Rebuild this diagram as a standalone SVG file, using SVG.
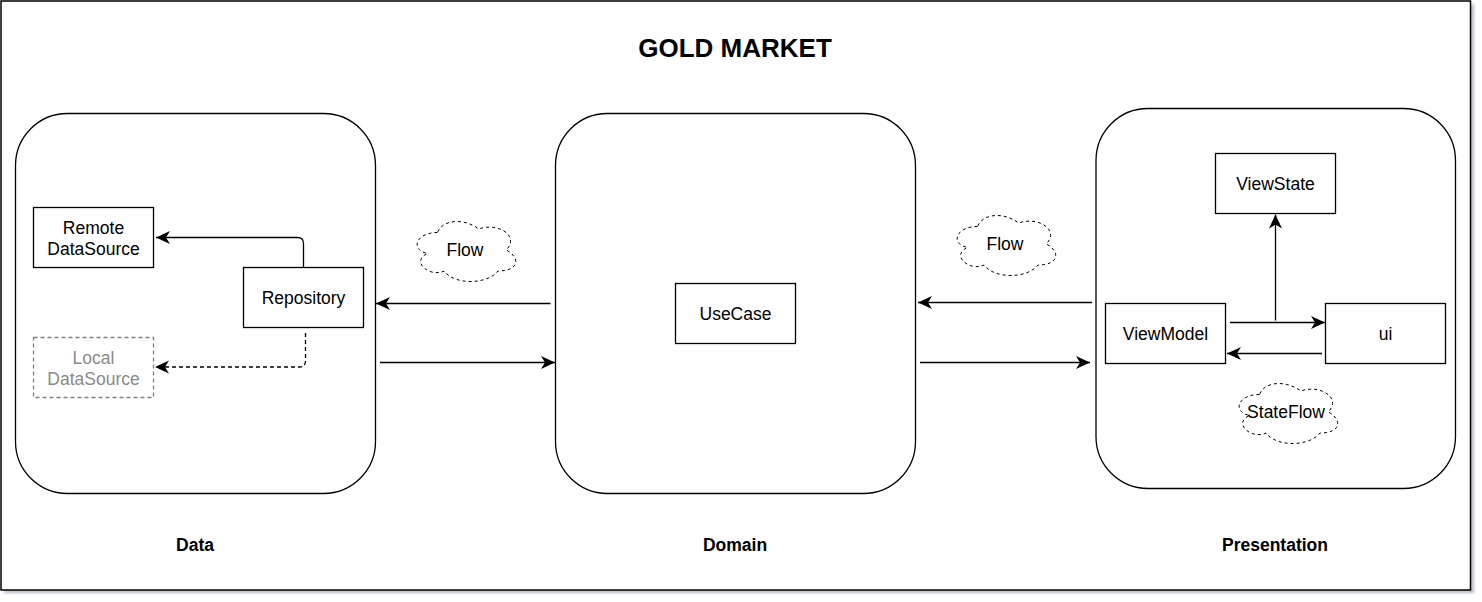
<svg xmlns="http://www.w3.org/2000/svg" width="1482" height="602" viewBox="0 0 1482 602">
<style>
  .frame { fill: #ffffff; stroke: #000000; stroke-width: 1.5; }
  .container { fill: #ffffff; stroke: #000000; stroke-width: 1.3; }
  .box { fill: #ffffff; stroke: #000000; stroke-width: 1.3; }
  .box-dashed { fill: #ffffff; stroke: #808080; stroke-width: 1.3; stroke-dasharray: 4 3; }
  .cloud { fill: #ffffff; stroke: #000000; stroke-width: 1; stroke-dasharray: 3 3; }
  .txt { font-family: "Liberation Sans", Arial, sans-serif; font-size: 17.5px; fill: #000000; text-anchor: middle; }
  .txt-gray { fill: #8a8a8a; }
  .label { font-family: "Liberation Sans", Arial, sans-serif; font-size: 17.5px; font-weight: bold; fill: #000000; text-anchor: middle; }
  .title { font-family: "Liberation Sans", Arial, sans-serif; font-size: 26px; font-weight: bold; fill: #000000; text-anchor: middle; }
  .edge { fill: none; stroke: #000000; stroke-width: 1.3; }
  .edge-dashed { fill: none; stroke: #000000; stroke-width: 1.3; stroke-dasharray: 4 3; }
</style>
<defs>
  <marker id="arrow" markerUnits="userSpaceOnUse" viewBox="-15 -8 16 16" markerWidth="16" markerHeight="16" refX="0" refY="0" orient="auto">
    <path d="M0,0 L-14,-6.5 L-10,0 L-14,6.5 Z" fill="#000000" stroke="none"/>
  </marker>
  <filter id="shadow" x="-5%" y="-5%" width="110%" height="110%">
    <feGaussianBlur stdDeviation="1.5"/>
  </filter>
</defs>

<rect width="1482" height="602" fill="#ffffff"/>

<g id="frame">
  <rect x="4" y="4" width="1470" height="589" fill="#b8bccb" filter="url(#shadow)"/>
  <rect class="frame" x="1" y="1" width="1469.5" height="589"/>
</g>

<g id="title">
  <text class="title" x="735" y="57">GOLD MARKET</text>
</g>

<g id="data">
  <rect class="container" x="15.5" y="113.5" width="360" height="380" rx="52" ry="52"/>
  <text class="label" x="195" y="551">Data</text>
</g>

<g id="domain">
  <rect class="container" x="555.5" y="113.5" width="360" height="380" rx="52" ry="52"/>
  <text class="label" x="735" y="551">Domain</text>
</g>

<g id="presentation">
  <rect class="container" x="1096" y="108.5" width="359.5" height="380" rx="52" ry="52"/>
  <text class="label" x="1275" y="551">Presentation</text>
</g>

<g id="remote-datasource">
  <rect class="box" x="33.5" y="207.5" width="120" height="60"/>
  <text class="txt" x="93.5" y="234">Remote</text>
  <text class="txt" x="93.5" y="255">DataSource</text>
</g>

<g id="repository">
  <rect class="box" x="243.5" y="267.5" width="120" height="60"/>
  <text class="txt" x="303.5" y="304">Repository</text>
</g>

<g id="local-datasource">
  <rect class="box-dashed" x="33.5" y="337.5" width="120" height="60"/>
  <text class="txt txt-gray" x="93.5" y="364">Local</text>
  <text class="txt txt-gray" x="93.5" y="385">DataSource</text>
</g>

<g id="usecase">
  <rect class="box" x="675.5" y="283.5" width="120" height="60"/>
  <text class="txt" x="735.5" y="320">UseCase</text>
</g>

<g id="viewstate">
  <rect class="box" x="1215.5" y="153.5" width="120" height="60"/>
  <text class="txt" x="1275.5" y="190">ViewState</text>
</g>

<g id="viewmodel">
  <rect class="box" x="1105.5" y="303.5" width="120" height="60"/>
  <text class="txt" x="1165.5" y="340">ViewModel</text>
</g>

<g id="ui">
  <rect class="box" x="1325.5" y="303.5" width="120" height="60"/>
  <text class="txt" x="1385.5" y="340">ui</text>
</g>

<g id="flow-cloud-1">
  <path class="cloud" d="M 437.5,232.5 C 415.5,232.5 410,250 427.6,253.5 C 410,261.2 429.8,278 444.1,271 C 454,285 487,285 498,271 C 520,271 520,257 506.25,250 C 520,236 498,222 478.75,229 C 465,218.5 443,218.5 437.5,232.5 Z"/>
  <text class="txt" x="465" y="256">Flow</text>
</g>

<g id="flow-cloud-2">
  <path class="cloud" d="M 977.5,226.5 C 955.5,226.5 950,244 967.6,247.5 C 950,255.2 969.8,272 984.1,265 C 994,279 1027,279 1038,265 C 1060,265 1060,251 1046.25,244 C 1060,230 1038,216 1018.75,223 C 1005,212.5 983,212.5 977.5,226.5 Z"/>
  <text class="txt" x="1005" y="250">Flow</text>
</g>

<g id="stateflow-cloud">
  <path class="cloud" d="M 1259.5,394.5 C 1237.5,394.5 1232,412 1249.6,415.5 C 1232,423.2 1251.8,440 1266.1,433 C 1276,447 1309,447 1320,433 C 1342,433 1342,419 1328.25,412 C 1342,398 1320,384 1300.75,391 C 1287,380.5 1265,380.5 1259.5,394.5 Z"/>
  <text class="txt" x="1286" y="418">StateFlow</text>
</g>

<g id="connectors">
  <path class="edge" d="M 303.5,267.5 L 303.5,243.5 Q 303.5,237.5 297.5,237.5 L 156,237.5" marker-end="url(#arrow)"/>
  <path class="edge-dashed" d="M 305.5,333 L 305.5,361 Q 305.5,367 299.5,367 L 155,367" marker-end="url(#arrow)"/>
  <path class="edge" d="M 550.5,303.5 L 376,303.5" marker-end="url(#arrow)"/>
  <path class="edge" d="M 380,362.5 L 555,362.5" marker-end="url(#arrow)"/>
  <path class="edge" d="M 1092,302.5 L 918,302.5" marker-end="url(#arrow)"/>
  <path class="edge" d="M 920,362.5 L 1090,362.5" marker-end="url(#arrow)"/>
  <path class="edge" d="M 1230,322.5 L 1325,322.5" marker-end="url(#arrow)"/>
  <path class="edge" d="M 1275.5,320.5 L 1275.5,214.5" marker-end="url(#arrow)"/>
  <path class="edge" d="M 1322,353.5 L 1227,353.5" marker-end="url(#arrow)"/>
</g>
</svg>
